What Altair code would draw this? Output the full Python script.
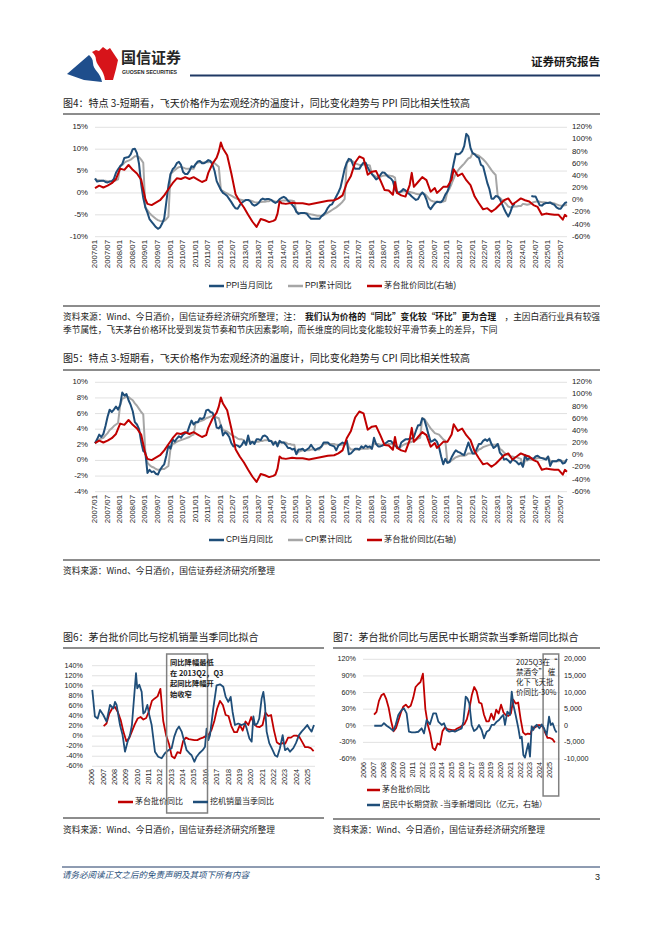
import altair as alt
import pandas as pd

# ---------------- data ----------------
# monthly series, 2007/01 .. 2025/10 (None = no data)
ppi_month = [
    3.3, 2.6, 2.7, 2.8, 2.8, 2.5, 2.4, 2.6, 2.7, 3.2, 4.6, 5.4,
    6.1, 6.6, 8.0, 8.1, 8.2, 8.8, 10.0, 10.1, 9.1, 6.6, 2.0, -1.1,
    -3.3, -4.5, -6.0, -6.6, -7.2, -7.8, -8.2, -7.9, -7.0, -5.8, -2.1, 1.7,
    4.3, 5.4, 5.9, 6.8, 7.1, 6.4, 4.8, 4.3, 4.3, 5.0, 6.1, 5.9,
    6.6, 7.2, 7.3, 6.8, 6.8, 7.1, 7.5, 7.3, 6.5, 5.0, 2.7, 1.7,
    0.7, 0.0, -0.3, -0.7, -1.4, -2.1, -2.9, -3.5, -3.6, -2.8, -2.2, -1.9,
    -1.6, -1.6, -1.9, -2.6, -2.9, -2.7, -2.3, -1.6, -1.3, -1.5, -1.4, -1.4,
    -1.6, -2.0, -2.3, -2.0, -1.4, -1.1, -0.9, -1.2, -1.8, -2.2, -2.7, -3.3,
    -4.3, -4.8, -4.6, -4.6, -4.6, -4.8, -5.4, -5.9, -5.9, -5.9, -5.9, -5.9,
    -5.3, -4.9, -4.3, -3.4, -2.8, -2.6, -1.7, -0.8, 0.1, 1.2, 3.3, 5.5,
    6.9, 7.8, 7.6, 6.4, 5.5, 5.5, 5.5, 6.3, 6.9, 6.9, 5.8, 4.9,
    4.3, 3.7, 3.1, 3.4, 4.1, 4.7, 4.6, 4.1, 3.6, 3.3, 2.7, 0.9,
    0.1, 0.1, 0.4, 0.9, 0.6, 0.0, -0.3, -0.8, -1.2, -1.6, -1.4, -0.5,
    0.1, -0.4, -1.5, -3.1, -3.7, -3.0, -2.4, -2.0, -2.1, -2.1, -1.5, -0.4,
    0.3, 1.7, 4.4, 6.8, 9.0, 8.8, 9.0, 9.5, 10.7, 13.5, 12.9, 10.3,
    9.1, 8.8, 8.3, 8.0, 6.4, 6.1, 4.2, 2.3, 0.9, -1.3, -1.3, -0.7,
    -0.8, -1.4, -2.5, -3.6, -4.6, -5.4, -4.4, -3.0, -2.5, None, None, None,
    None, None, None, None, -0.7, -0.8, -0.8, -1.8, -2.8, -2.9, -2.5, -2.3,
    -2.3, -2.2, -2.5, -2.7, -3.3, -3.6, -3.6, -2.9, -2.3, -2.1,
]
ppi_cum = [
    3.3, 2.9, 2.9, 2.8, 2.8, 2.8, 2.7, 2.7, 2.7, 2.7, 2.9, 3.1,
    6.1, 6.4, 6.9, 7.2, 7.4, 7.6, 8.0, 8.4, 8.4, 8.2, 7.6, 6.9,
    -3.3, -3.9, -4.6, -5.1, -5.5, -5.9, -6.2, -6.4, -6.5, -6.4, -6.0, -5.4,
    4.3, 4.8, 5.2, 5.6, 5.9, 6.0, 5.8, 5.6, 5.5, 5.5, 5.5, 5.5,
    6.6, 6.9, 7.0, 7.0, 6.9, 7.0, 7.0, 7.1, 7.0, 6.8, 6.4, 6.0,
    0.7, 0.4, 0.1, -0.1, -0.4, -0.6, -0.9, -1.2, -1.4, -1.5, -1.6, -1.7,
    -1.6, -1.6, -1.7, -1.9, -2.1, -2.2, -2.2, -2.1, -2.0, -2.0, -1.9, -1.9,
    -1.6, -1.8, -2.0, -2.0, -1.9, -1.8, -1.7, -1.7, -1.7, -1.7, -1.8, -1.9,
    -4.3, -4.5, -4.6, -4.6, -4.6, -4.6, -4.8, -4.9, -5.0, -5.1, -5.2, -5.2,
    -5.3, -5.1, -4.8, -4.5, -4.2, -3.9, -3.6, -3.3, -2.9, -2.5, -2.0, -1.4,
    6.9, 7.3, 7.4, 7.2, 6.8, 6.6, 6.4, 6.4, 6.5, 6.5, 6.4, 6.3,
    4.3, 4.0, 3.7, 3.6, 3.7, 3.9, 4.0, 4.0, 4.0, 3.9, 3.8, 3.5,
    0.1, 0.1, 0.2, 0.4, 0.4, 0.3, 0.2, 0.1, 0.0, -0.2, -0.3, -0.3,
    0.1, -0.2, -0.6, -1.2, -1.7, -1.9, -2.0, -2.0, -2.0, -2.0, -2.0, -1.8,
    0.3, 1.0, 2.1, 3.3, 4.4, 5.1, 5.7, 6.2, 6.7, 7.3, 7.9, 8.1,
    9.1, 8.9, 8.7, 8.5, 8.1, 7.7, 7.2, 6.6, 5.9, 5.2, 4.6, 4.1,
    -0.8, -1.1, -1.6, -2.0, -2.5, -3.1, -3.3, -3.2, -3.1, -3.1, -3.0, -3.0,
    -2.5, -2.6, -2.7, -2.6, -2.4, -2.1, -2.0, -1.9, -2.0, -2.1, -2.1, -2.2,
    -2.3, -2.2, -2.3, -2.4, -2.6, -2.8, -2.9, -2.9, -2.8, -2.7,
]
cpi_month = [
    2.2, 2.7, 3.3, 3.0, 3.4, 4.4, 5.6, 6.5, 6.2, 6.5, 6.9, 6.5,
    7.1, 8.7, 8.3, 8.5, 7.7, 7.1, 6.3, 4.9, 4.6, 4.0, 2.4, 1.2,
    1.0, -1.6, -1.2, -1.5, -1.4, -1.7, -1.8, -1.2, -0.8, -0.5, 0.6, 1.9,
    1.5, 2.7, 2.4, 2.8, 3.1, 2.9, 3.3, 3.5, 3.6, 4.4, 5.1, 4.6,
    4.9, 4.9, 5.4, 5.3, 5.5, 6.4, 6.5, 6.2, 6.1, 5.5, 4.2, 4.1,
    4.5, 3.2, 3.6, 3.4, 3.0, 2.2, 1.8, 2.0, 1.9, 1.7, 2.0, 2.5,
    2.0, 3.2, 2.1, 2.4, 2.1, 2.7, 2.7, 2.6, 3.1, 3.2, 3.0, 2.5,
    2.5, 2.0, 2.4, 1.8, 2.5, 2.3, 2.3, 2.0, 1.6, 1.6, 1.4, 1.5,
    0.8, 1.4, 1.4, 1.5, 1.2, 1.4, 1.6, 2.0, 1.6, 1.3, 1.5, 1.6,
    1.8, 2.3, 2.3, 2.3, 2.0, 1.9, 1.8, 1.3, 1.9, 2.1, 2.3, 2.1,
    2.5, 0.8, 0.9, 1.2, 1.5, 1.5, 1.4, 1.8, 1.6, 1.9, 1.7, 1.8,
    1.5, 2.9, 2.1, 1.8, 1.8, 1.9, 2.1, 2.3, 2.5, 2.5, 2.2, 1.9,
    1.7, 1.5, 2.3, 2.5, 2.7, 2.7, 2.8, 2.8, 3.0, 3.8, 4.5, 4.5,
    5.4, 5.2, 4.3, 3.3, 2.4, 2.5, 2.7, 2.4, 1.7, 0.5, -0.5, 0.2,
    -0.3, -0.2, 0.4, 0.9, 1.3, 1.1, 1.0, 0.8, 0.7, 1.5, 2.3, 1.5,
    0.9, 0.9, 1.5, 2.1, 2.1, 2.5, 2.7, 2.5, 2.8, 2.1, 1.6, 1.8,
    2.1, 1.0, 0.7, 0.1, 0.2, 0.0, -0.3, 0.1, 0.0, -0.2, -0.5, -0.3,
    -0.8, 0.7, 0.1, 0.3, 0.3, 0.2, 0.5, 0.6, 0.4, 0.3, 0.2, 0.1,
    0.5, -0.7, -0.1, -0.1, -0.1, 0.1, 0.0, -0.4, -0.3, 0.2,
]
cpi_cum = [
    2.2, 2.5, 2.7, 2.8, 2.9, 3.2, 3.5, 3.9, 4.1, 4.4, 4.6, 4.8,
    7.1, 7.9, 8.0, 8.2, 8.1, 7.9, 7.7, 7.3, 7.0, 6.6, 6.2, 5.9,
    1.0, -0.3, -0.6, -0.8, -0.9, -1.1, -1.2, -1.2, -1.1, -1.1, -0.9, -0.7,
    1.5, 2.1, 2.2, 2.4, 2.5, 2.6, 2.7, 2.8, 2.9, 3.0, 3.2, 3.3,
    4.9, 4.9, 5.0, 5.1, 5.2, 5.4, 5.5, 5.6, 5.7, 5.6, 5.5, 5.4,
    4.5, 3.9, 3.8, 3.7, 3.5, 3.3, 3.1, 3.0, 2.8, 2.7, 2.7, 2.6,
    2.0, 2.6, 2.4, 2.4, 2.4, 2.4, 2.4, 2.5, 2.5, 2.6, 2.6, 2.6,
    2.5, 2.3, 2.3, 2.2, 2.3, 2.3, 2.3, 2.3, 2.1, 2.1, 2.0, 2.0,
    0.8, 1.1, 1.2, 1.3, 1.3, 1.3, 1.3, 1.4, 1.4, 1.4, 1.4, 1.4,
    1.8, 2.1, 2.1, 2.2, 2.1, 2.1, 2.1, 2.0, 2.0, 2.0, 2.0, 2.0,
    2.5, 1.7, 1.4, 1.4, 1.4, 1.4, 1.4, 1.5, 1.5, 1.5, 1.5, 1.6,
    1.5, 2.2, 2.1, 2.1, 2.0, 2.0, 2.0, 2.0, 2.1, 2.1, 2.1, 2.1,
    1.7, 1.6, 1.8, 2.0, 2.1, 2.2, 2.3, 2.4, 2.5, 2.6, 2.8, 2.9,
    5.4, 5.3, 4.9, 4.5, 4.1, 3.8, 3.5, 3.4, 3.3, 3.0, 2.7, 2.5,
    -0.3, -0.2, 0.0, 0.2, 0.4, 0.5, 0.6, 0.6, 0.6, 0.7, 0.9, 0.9,
    0.9, 0.9, 1.1, 1.4, 1.5, 1.7, 1.8, 1.9, 2.0, 2.0, 2.0, 2.0,
    2.1, 1.5, 1.3, 1.0, 0.8, 0.7, 0.5, 0.5, 0.4, 0.4, 0.3, 0.2,
    -0.8, 0.0, 0.0, 0.1, 0.1, 0.1, 0.2, 0.3, 0.3, 0.3, 0.3, 0.2,
    0.5, -0.1, -0.1, -0.1, -0.1, -0.1, 0.0, -0.1, -0.1, -0.1,
]
# 茅台批价同比 (monthly readings, right axis of fig 4 / fig 5)
mt_dates = [
    "2007/01", "2007/03", "2007/05", "2007/07", "2007/09", "2007/11",
    "2008/01", "2008/03", "2008/05", "2008/07", "2008/09", "2008/11", "2008/12",
    "2009/01", "2009/02", "2009/04", "2009/06", "2009/08", "2009/10", "2009/12",
    "2010/02", "2010/04", "2010/06", "2010/08", "2010/10", "2010/12",
    "2011/02", "2011/04", "2011/06", "2011/07", "2011/09", "2011/11", "2011/12",
    "2012/01", "2012/02", "2012/04", "2012/06", "2012/08", "2012/10", "2012/12",
    "2013/02", "2013/04", "2013/06", "2013/08", "2013/10", "2013/12",
    "2014/02", "2014/03", "2014/04", "2014/05", "2014/06", "2014/08", "2014/11",
    "2015/01", "2015/04", "2015/07", "2015/10",
    "2016/01", "2016/04", "2016/07", "2016/09", "2016/11",
    "2017/01", "2017/03", "2017/05", "2017/07", "2017/09", "2017/11",
    "2018/01", "2018/03", "2018/05", "2018/07", "2018/09", "2018/11", "2018/12",
    "2019/01", "2019/03", "2019/05", "2019/07", "2019/08", "2019/09", "2019/11",
    "2020/01", "2020/03", "2020/05", "2020/07", "2020/08", "2020/09", "2020/11",
    "2021/01", "2021/03", "2021/04", "2021/06", "2021/08", "2021/10", "2021/12",
    "2022/02", "2022/04", "2022/06", "2022/08", "2022/10", "2022/12",
    "2023/02", "2023/04", "2023/06", "2023/08", "2023/10", "2023/12",
    "2024/02", "2024/04", "2024/06", "2024/08", "2024/10", "2024/12",
    "2025/02", "2025/04", "2025/06", "2025/08", "2025/09", "2025/10",
]
mt_vals = [
    20, 24, 21, 24, 28, 35,
    52, 50, 58, 50, 44, 34, 18,
    2, -6, -8, -4, 0, 8, 18,
    28, 36, 35, 38, 35, 38,
    34, 30, 33, 45, 60, 70, 80,
    95, 85, 74, 44, 10, -2, -12,
    -24, -35, -44, -31, -33, -36,
    -34, -32, -22, -2, -5, -6, -4,
    -5, -5, -7, -5,
    -3, -1, 0, 3, 8,
    28, 40, 62, 72, 69, 42,
    47, 48, 33, 17, 16, 9, 30,
    12, 8, 6, 25, 45, 22, 30,
    38, 33, 14, 20, 12, 15, 22,
    22, 34, 51, 40, 44, 33, 25,
    6, -5, -15, -13, -19, -14,
    -7, 0, 3, -7, -2, 3,
    0, -2, -8, -11, -24, -22,
    -23, -24, -24, -32, -24, -27,
]
# quarterly 茅台批价同比 2007Q1 .. 2025Q3 (fig 6 / fig 7)
mtq_vals = [
    20, 25, 45, 55, 58, 48, 32, 8, -10, -4, 10, 24, 35, 38, 33, 36,
    50, 70, 75, 79, 94, 30, 2, -15, -40, -44, -32, -34, -10, -3, -6, -7,
    -8, -8, -5, -3, 0, 3, 12, 30, 55, 70, 62, 42, 40, 20, 8, 8,
    22, 11, 29, 22, 38, 24, 19, 18, 22, 47, 40, 42, 12, -12, -16, -14,
    -15, -3, -3, 1, 1, -2, -12, -22, -22, -24, -30,
]
# 挖机销量当季同比 (fig 6)
exc_t = [
    2006.00, 2006.23, 2006.47, 2006.68, 2006.97, 2007.26, 2007.56, 2007.85, 2008.00, 2008.14,
    2008.44, 2008.67, 2008.88, 2009.11, 2009.32, 2009.49, 2009.85, 2009.96, 2010.14, 2010.35,
    2010.49, 2010.64, 2010.85, 2011.02, 2011.23, 2011.52, 2011.81, 2012.11, 2012.40, 2012.70,
    2012.99, 2013.22, 2013.43, 2013.64, 2013.87, 2014.08, 2014.31, 2014.55, 2014.75, 2014.99,
    2015.19, 2015.43, 2015.72, 2015.93, 2016.07, 2016.22, 2016.37, 2016.66, 2016.95, 2017.25,
    2017.54, 2017.75, 2017.98, 2018.19, 2018.36, 2018.57, 2018.86, 2019.16, 2019.45, 2019.60,
    2019.83, 2020.04, 2020.19, 2020.33, 2020.54, 2020.71, 2020.92, 2021.07, 2021.21, 2021.36,
    2021.59, 2021.89, 2022.09, 2022.30, 2022.53, 2022.77, 2022.98, 2023.21, 2023.42, 2023.71,
    2023.94, 2024.21, 2024.44, 2024.68, 2024.94, 2025.12, 2025.32, 2025.53,
]
exc_vals = [
    92, 39, 35, 52, 42, 29, 62, 55, 68, 62,
    22, 2, -31, -11, 2, 22, 125, 95, 102, 88,
    45, 48, 62, 42, 22, -31, -41, -44, -34, -28,
    -24, -1, 12, 19, 9, -8, -28, -34, -38, -51,
    -41, -34, -28, -21, 15, -8, 2, 55, 101, 103,
    98, 78, 68, 78, 48, 22, 25, 22, 25, 15,
    -4, -11, 39, 22, 25, 35, 75, 88, 62, 9,
    -14, -28, -38, -41, -24, 2, -28, -24, -31, -24,
    -14, 2, 9, 15, 22, 15, 9, 22,
]
# 居民中长期贷款-当季新增同比 (亿元, fig 7 right axis)
loan_t = [
    2007.02, 2007.43, 2007.77, 2008.01, 2008.29, 2008.63, 2008.97, 2009.21, 2009.48, 2009.82,
    2010.06, 2010.33, 2010.57, 2010.85, 2011.19, 2011.53, 2011.87, 2012.11, 2012.38, 2012.72,
    2013.06, 2013.34, 2013.58, 2013.92, 2014.16, 2014.43, 2014.70, 2015.04, 2015.28, 2015.62,
    2015.97, 2016.14, 2016.38, 2016.55, 2016.75, 2016.99, 2017.23, 2017.50, 2017.74, 2018.01,
    2018.25, 2018.53, 2018.80, 2019.04, 2019.28, 2019.55, 2019.79, 2020.06, 2020.23, 2020.40,
    2020.64, 2020.91, 2021.09, 2021.26, 2021.49, 2021.77, 2021.94, 2022.11, 2022.28, 2022.45,
    2022.62, 2022.79, 2022.96, 2023.13, 2023.30, 2023.47, 2023.64, 2023.92, 2024.16, 2024.40,
    2024.67, 2024.91, 2025.08, 2025.28, 2025.52, 2025.69,
]
loan_vals = [
    0, 0, 0, 800, 0, -700, -1500, 300, 3250, 4750,
    5250, 3750, -1770, -2000, -2000, -1800, -770, -2270, 1740, 430,
    3750, 3750, 1240, 240, 740, -1270, -1770, -1570, -1770, -1270,
    -770, 1240, 8760, 8260, 6760, 240, -1570, -970, 240, -1270,
    -3780, -1770, -1270, 240, 240, 1240, 1740, 2740, 3250, 240,
    4250, 3250, 10270, 6260, 3250, -770, -3780, -3280, -8800, -9600,
    -7300, -5280, -9300, -200, -1270, -200, 300, -770, 430, -770,
    -2770, 2740, 240, 740, -1270, -2000,
]
# tick values and labels
tk4L = [-10, -5, 0, 5, 10, 15]
lb4L = ["-10%", "-5%", "0%", "5%", "10%", "15%"]
tk5L = [-4, -2, 0, 2, 4, 6, 8, 10]
lb5L = ["-4%", "-2%", "0%", "2%", "4%", "6%", "8%", "10%"]
tkR = [-60, -40, -20, 0, 20, 40, 60, 80, 100, 120]
lbR = ["-60%", "-40%", "-20%", "0%", "20%", "40%", "60%", "80%", "100%", "120%"]
tk6 = [-60, -40, -20, 0, 20, 40, 60, 80, 100, 120, 140]
lb6 = ["-60%", "-40%", "-20%", "0%", "20%", "40%", "60%", "80%", "100%", "120%", "140%"]
tk7L = [-60, -30, 0, 30, 60, 90, 120]
lb7L = ["-60%", "-30%", "0%", "30%", "60%", "90%", "120%"]
tk7R = [-10000, -5000, 0, 5000, 10000, 15000, 20000]
lb7R = ["-10,000", "-5,000", "0", "5,000", "10,000", "15,000", "20,000"]
half_year_labels = [f"{y}/{m:02d}" for y in range(2007, 2026) for m in (1, 7)]
year_labels = [str(y) for y in range(2006, 2026)]

# ---------------- helpers ----------------
O = 8
FONT = "Liberation Sans, Noto Sans CJK SC, sans-serif"
CJK = "Noto Sans CJK SC, Liberation Sans, sans-serif"
BLUE = "#1f4e79"
GREY = "#a6a6a6"
RED = "#c00000"
GRID = "#d9d9d9"
INK = "#1a1a1a"
one = pd.DataFrame({"k": [0]})


def P(v):
    return v - O


def txt(s, x, y, size=8.7, weight="normal", color=INK, align="left", font=CJK,
        baseline="middle", style="normal", lh=None):
    kw = dict(text=s, fontSize=size, fontWeight=weight, color=color, align=align,
              baseline=baseline, font=font, fontStyle=style)
    if lh:
        kw["lineHeight"] = lh
    return alt.Chart(one).mark_text(**kw).encode(x=alt.value(P(x)), y=alt.value(P(y)))


def hrule(x1, x2, y, color=INK, w=1.0):
    return alt.Chart(one).mark_rule(color=color, strokeWidth=w).encode(
        x=alt.value(P(x1)), x2=alt.value(P(x2)), y=alt.value(P(y)))


def sc(dom, rng):
    return alt.Scale(domain=list(dom), range=[P(rng[0]), P(rng[1])], nice=False, zero=False)


def grid(ticks, ys, x0, x1):
    return alt.Chart(pd.DataFrame({"v": ticks})).mark_rule(color=GRID, strokeWidth=0.8).encode(
        y=alt.Y("v:Q", scale=ys, axis=None), x=alt.value(P(x0)), x2=alt.value(P(x1)))


def ylab(ticks, labels, ys, x, align, size):
    return alt.Chart(pd.DataFrame({"v": ticks, "l": labels})).mark_text(
        align=align, baseline="middle", fontSize=size, font=FONT, color=INK).encode(
        y=alt.Y("v:Q", scale=ys, axis=None), x=alt.value(P(x)), text="l:N")


def xlab(ts, labels, xs, y, size):
    return alt.Chart(pd.DataFrame({"t": ts, "l": labels})).mark_text(
        angle=270, align="right", baseline="middle", fontSize=size, font=FONT, color=INK).encode(
        x=alt.X("t:Q", scale=xs, axis=None), y=alt.value(P(y)), text="l:N")


def line(ts, vs, xs, ys, color, w=2.0):
    rows, seg = [], 0
    for t, v in zip(ts, vs):
        if v is None:
            seg += 1
            continue
        rows.append({"t": t, "v": v, "s": seg})
    return alt.Chart(pd.DataFrame(rows)).mark_line(color=color, strokeWidth=w, strokeJoin="round").encode(
        x=alt.X("t:Q", scale=xs, axis=None), y=alt.Y("v:Q", scale=ys, axis=None), detail="s:N")


def box(a, b, xs, y1, y2):
    return alt.Chart(pd.DataFrame({"a": [a], "b": [b]})).mark_rect(
        fillOpacity=0, stroke="#808080", strokeWidth=1.5).encode(
        x=alt.X("a:Q", scale=xs, axis=None), x2="b:Q", y=alt.value(P(y1)), y2=alt.value(P(y2)))


def legend_item(x, y, color, label, size=8.3, length=15):
    return [hrule(x, x + length, y, color, 2.5), txt(label, x + length + 2, y, size=size, font=FONT)]


def shape_path(cmds, cx, cy, h):
    out = []
    for c, pts in cmds:
        out.append(c + " " + " ".join(f"{(x - cx) / h:.3f},{(y - cy) / h:.3f}" for x, y in pts))
    return " ".join(out) + " Z"


def ym(s):
    y, m = s.split("/")
    return int(y) + (int(m) - 1) / 12


month_t = [2007 + i / 12 for i in range(len(ppi_month))]
mt_t = [ym(s) for s in mt_dates]
half_t = [ym(s) for s in half_year_labels]
year_t = [int(s) for s in year_labels]
mtq_t = [2007 + 0.25 * i for i in range(len(mtq_vals))]

parts = []

# ---------------- header ----------------
LC = (92, 65, 27)
red_logo = shape_path([("M", [(92, 52)]),
                       ("L", [(96, 50), (99, 51), (103, 47), (107, 50), (110, 48), (114, 54), (118, 60), (116, 69), (113, 80), (105, 80)]),
                       ("C", [(104, 70), (97, 66), (96, 60)]),
                       ("C", [(96, 56), (94, 54), (92, 52)])], *LC)
blue_logo = shape_path([("M", [(67, 74)]),
                        ("L", [(89, 55)]),
                        ("C", [(91, 57), (93, 59), (93, 63)]),
                        ("C", [(93, 70), (101, 73), (102, 82)]),
                        ("L", [(84, 80)])], *LC)
for pth, col in ((red_logo, "#d7141a"), (blue_logo, "#1f4e8c")):
    parts.append(alt.Chart(one).mark_point(shape=pth, size=(2 * LC[2]) ** 2, filled=True, fill=col,
                                           strokeWidth=0, opacity=1).encode(
        x=alt.value(P(LC[0])), y=alt.value(P(LC[1]))))
parts += [
    txt("国信证券", 121, 58, size=15, weight="bold", color="#262626"),
    txt("GUOSEN SECURITIES", 122, 72, size=5.2, weight="bold", font="Liberation Sans, sans-serif", color="#262626"),
    txt("证券研究报告", 600, 63, size=11.5, weight="bold", align="right"),
    hrule(190, 600, 75.5, "#1f3864", 2),
]

# ---------------- figure 4 ----------------
X4 = sc((2007, 2025.75), (95, 567))
Y4L = sc((-10, 15), (236.7, 127.3))
Y4R = sc((-60, 120), (236.7, 127.3))
c4 = alt.layer(
    alt.layer(grid(tk4L, Y4L, 95, 567), ylab(tk4L, lb4L, Y4L, 88, "right", 7.8),
              xlab(half_t, half_year_labels, X4, 240, 7.8),
              line(month_t, ppi_cum, X4, Y4L, GREY), line(month_t, ppi_month, X4, Y4L, BLUE)),
    alt.layer(ylab(tkR, lbR, Y4R, 572, "left", 7.8), line(mt_t, mt_vals, X4, Y4R, RED)),
).resolve_scale(y="independent")
parts += [
    txt("图4：特点 3-短期看，飞天价格作为宏观经济的温度计，同比变化趋势与 PPI 同比相关性较高", 63, 104, size=10),
    hrule(63, 600, 114),
    c4,
]
parts += legend_item(209, 286, BLUE, "PPI当月同比")
parts += legend_item(288, 286, GREY, "PPI累计同比")
parts += legend_item(367, 286, RED, "茅台批价同比(右轴)")
parts += [
    hrule(63, 600, 306),
    txt("资料来源：Wind、今日酒价，国信证券经济研究所整理；注：", 63, 317),
    txt("我们认为价格的“同比”变化较“环比”更为合理", 305, 317, weight="bold"),
    txt("，主因白酒行业具有较强", 600, 317, align="right"),
    txt("季节属性，飞天茅台价格环比受到发货节奏和节庆因素影响，而长维度的同比变化能较好平滑节奏上的差异，下同", 63, 330),
]

# ---------------- figure 5 ----------------
X5 = sc((2007, 2025.75), (95, 567))
Y5L = sc((-4, 10), (491.7, 382.3))
Y5R = sc((-60, 120), (491.7, 382.3))
c5 = alt.layer(
    alt.layer(grid(tk5L, Y5L, 95, 567), ylab(tk5L, lb5L, Y5L, 88, "right", 7.8),
              xlab(half_t, half_year_labels, X5, 495, 7.8),
              line(month_t, cpi_cum, X5, Y5L, GREY), line(month_t, cpi_month, X5, Y5L, BLUE)),
    alt.layer(ylab(tkR, lbR, Y5R, 572, "left", 7.8), line(mt_t, mt_vals, X5, Y5R, RED)),
).resolve_scale(y="independent")
parts += [
    txt("图5：特点 3-短期看，飞天价格作为宏观经济的温度计，同比变化趋势与 CPI 同比相关性较高", 63, 359, size=10),
    hrule(63, 600, 370),
    c5,
]
parts += legend_item(209, 540, BLUE, "CPI当月同比")
parts += legend_item(288, 540, GREY, "CPI累计同比")
parts += legend_item(367, 540, RED, "茅台批价同比(右轴)")
parts += [
    hrule(63, 600, 560),
    txt("资料来源：Wind、今日酒价，国信证券经济研究所整理", 63, 571),
]

# ---------------- figure 6 ----------------
X6 = sc((2006, 2025.62), (92.3, 315))
Y6 = sc((-60, 140), (766.3, 665.7))
c6 = alt.layer(
    grid(tk6, Y6, 92, 315), ylab(tk6, lb6, Y6, 83, "right", 7.2), xlab(year_t, year_labels, X6, 769, 7.2),
    line(mtq_t, mtq_vals, X6, Y6, RED, 1.8), line(exc_t, exc_vals, X6, Y6, BLUE, 1.8),
    box(2012.55, 2016.15, X6, 654, 813),
)
parts += [
    txt("图6：茅台批价同比与挖机销量当季同比拟合", 63, 638, size=10),
    hrule(63, 324, 648),
    c6,
    txt(["同比降幅最低", "在 2013Q2，Q3", "起同比降幅开", "始收窄"], 170, 659, size=7.3, weight="bold",
        baseline="top", lh=10.5),
]
parts += legend_item(118, 802, RED, "茅台批价同比", size=8)
parts += legend_item(193, 802, BLUE, "挖机销量当季同比", size=8)
parts += [
    hrule(63, 324, 818),
    txt("资料来源：Wind、今日酒价，国信证券经济研究所整理", 63, 830),
]

# ---------------- figure 7 ----------------
X7 = sc((2006, 2026), (364.3, 559.7))
Y7L = sc((-60, 120), (759, 659.3))
Y7R = sc((-10000, 20000), (759, 659.3))
c7 = alt.layer(
    alt.layer(grid(tk7L, Y7L, 363, 560), ylab(tk7L, lb7L, Y7L, 356, "right", 7.2),
              xlab(year_t, year_labels, X7, 762, 7.2),
              line(mtq_t, mtq_vals, X7, Y7L, RED, 1.8), box(2024.3, 2025.9, X7, 654, 796)),
    alt.layer(ylab(tk7R, lb7R, Y7R, 564, "left", 7.2), line(loan_t, loan_vals, X7, Y7R, BLUE, 1.8)),
).resolve_scale(y="independent")
parts += [
    txt("图7：茅台批价同比与居民中长期贷款当季新增同比拟合", 333, 638, size=10),
    hrule(333, 600, 648),
    c7,
    txt(["2025Q3在“", "禁酒令”  催", "化下飞天批", "价同比-30%"], 516, 659, size=7.5, baseline="top", lh=10),
]
parts += legend_item(367, 790, RED, "茅台批价同比", size=8, length=13)
parts += legend_item(367, 805, BLUE, "居民中长期贷款 -当季新增同比（亿元，右轴）", size=8, length=13)
parts += [
    hrule(333, 600, 819),
    txt("资料来源：Wind、今日酒价，国信证券经济研究所整理", 333, 830),
]

# ---------------- footer ----------------
parts += [
    hrule(62, 600, 867, "#1f3864", 1),
    txt("请务必阅读正文之后的免责声明及其项下所有内容", 62, 875, size=8.5, color="#1f4e79", style="italic"),
    txt("3", 600, 877, size=9, align="right", font=FONT),
]

chart = alt.layer(*parts).resolve_scale(x="independent", y="independent").properties(
    width=646, height=920, autosize=alt.AutoSizeParams(type="none"), padding=0, background="white"
).configure_view(strokeWidth=0)

chart.save("out.html", embed_options={"renderer": "svg", "actions": False})
